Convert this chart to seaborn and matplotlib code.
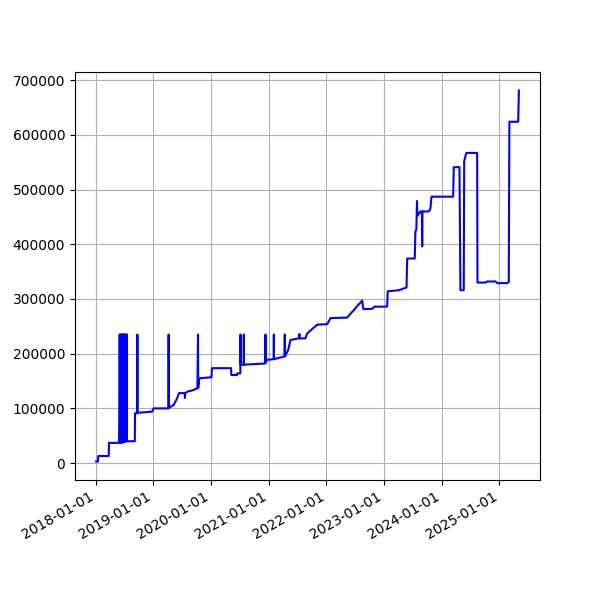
import pandas as pd
import matplotlib
matplotlib.use("Agg")
import matplotlib.pyplot as plt
import matplotlib.dates as mdates
import seaborn as sns

# values
dates = [
    "2018-01-05", "2018-01-17", "2018-01-18", "2018-03-26", "2018-03-27", "2018-06-02",
    "2018-06-03", "2018-06-04", "2018-06-08", "2018-06-09", "2018-06-13", "2018-06-14",
    "2018-06-18", "2018-06-19", "2018-06-23", "2018-06-24", "2018-06-28", "2018-06-29",
    "2018-07-03", "2018-07-04", "2018-07-08", "2018-07-09", "2018-07-13", "2018-07-14",
    "2018-07-18", "2018-07-19", "2018-09-07", "2018-09-08", "2018-09-22", "2018-09-23",
    "2018-09-24", "2018-12-25", "2019-01-04", "2019-04-08", "2019-04-09", "2019-04-10",
    "2019-05-10", "2019-06-01", "2019-06-14", "2019-07-20", "2019-07-21", "2019-07-22",
    "2019-08-10", "2019-09-08", "2019-10-08", "2019-10-12", "2019-10-13", "2019-10-20",
    "2020-01-05", "2020-01-08", "2020-05-08", "2020-05-10", "2020-06-15", "2020-06-17",
    "2020-07-06", "2020-07-07", "2020-07-08", "2020-07-27", "2020-07-28", "2020-07-29",
    "2020-12-11", "2020-12-12", "2020-12-13", "2020-12-23", "2021-02-02", "2021-02-03",
    "2021-02-04", "2021-04-12", "2021-04-13", "2021-04-14", "2021-05-05", "2021-05-19",
    "2021-07-11", "2021-07-15", "2021-07-16", "2021-08-22", "2021-09-02", "2021-11-04",
    "2022-01-07", "2022-01-28", "2022-05-13", "2022-08-16", "2022-08-23", "2022-10-18",
    "2022-11-02", "2023-01-21", "2023-01-25", "2023-04-05", "2023-05-24", "2023-05-28",
    "2023-07-15", "2023-07-19", "2023-07-25", "2023-07-29", "2023-08-01", "2023-08-20",
    "2023-08-29", "2023-08-31", "2023-09-02", "2023-10-12", "2023-10-22", "2023-10-29",
    "2024-03-14", "2024-03-18", "2024-04-23", "2024-04-29", "2024-05-20", "2024-05-23",
    "2024-05-30", "2024-06-06", "2024-08-13", "2024-08-15", "2024-10-05", "2024-10-16",
    "2024-12-07", "2024-12-18", "2025-02-19", "2025-03-01", "2025-03-05", "2025-04-30",
    "2025-05-04",
]
values = [
    3000, 3000, 13000, 13000, 37000, 37000,
    235000, 37000, 235000, 37000, 235000, 37000,
    235000, 38000, 235000, 38000, 235000, 38000,
    235000, 39000, 235000, 39000, 235000, 40000,
    235000, 40000, 40000, 91000, 91000, 235000,
    92000, 94000, 100000, 100000, 235000, 101000,
    106000, 118000, 128000, 128000, 119000, 128000,
    131000, 133000, 137000, 235000, 137000, 155000,
    157000, 173500, 173500, 161000, 161000, 164000,
    164000, 235000, 180000, 180000, 235000, 180000,
    182000, 235000, 184500, 188700, 190000, 235000,
    190000, 195000, 235000, 195000, 207000, 225000,
    228000, 236000, 228000, 228000, 237000, 253000,
    254000, 265000, 266000, 297000, 281600, 282000,
    286000, 286000, 314000, 316000, 321000, 374000,
    374000, 424000, 426000, 479000, 452000, 460000,
    460000, 396000, 460000, 460000, 465000, 487000,
    487000, 541000, 541000, 316000, 316000, 552000,
    560000, 567000, 567000, 330000, 330000, 332000,
    332000, 329000, 329000, 331000, 624000, 624000,
    681000,
]

x = pd.to_datetime(dates)

fig, ax = plt.subplots(figsize=(6, 6), dpi=100)
sns.lineplot(x=x, y=values, ax=ax, color="blue", linewidth=1.5, estimator=None)
ax.set_xlabel("")
ax.set_ylabel("")
ax.grid(True)
ax.xaxis.set_major_locator(mdates.YearLocator())
ax.xaxis.set_major_formatter(mdates.DateFormatter("%Y-%m-%d"))
fig.autofmt_xdate()

plt.savefig("out.png", dpi=100)
